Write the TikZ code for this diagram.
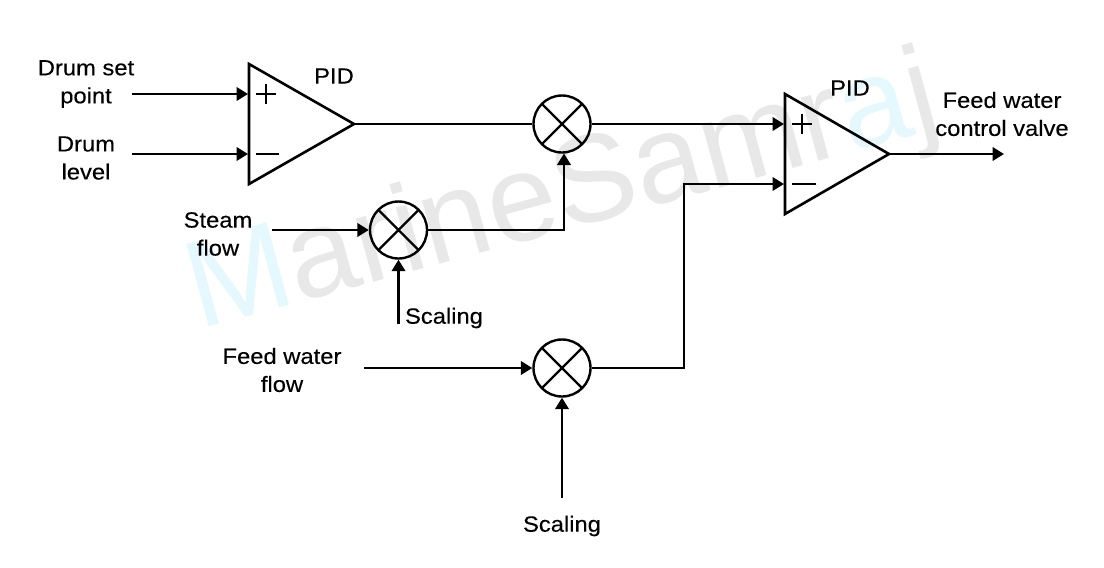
\documentclass[tikz,border=0pt]{standalone}
\usepackage{fontspec}
\setmainfont[FakeBold=0.25,FakeStretch=1.08]{Liberation Sans}
\newfontfamily\wmfont{Liberation Sans}
\usetikzlibrary{arrows.meta}
\definecolor{wmgrey}{HTML}{E8E8E8}
\definecolor{wmcyan}{HTML}{E4F8FD}
\tikzset{
  x=1pt,y=-1pt,
  lbl/.style={font=\fontsize{22}{28}\selectfont,align=center,inner sep=0pt,text=black},
  wire/.style={line width=2.4pt,-{Triangle[length=11.5pt,width=13.5pt]}},
  plain/.style={line width=2.4pt},
  sign/.style={line width=2pt},
  amp/.style={line width=2.6pt,line join=miter},
  mult/.style={draw,line width=2.4pt,circle,minimum size=57pt,inner sep=0pt,
    path picture={\draw[line width=2.4pt]
      (path picture bounding box.north west) -- (path picture bounding box.south east)
      (path picture bounding box.north east) -- (path picture bounding box.south west);}},
  wm/.style={font=\wmfont\fontsize{124}{124}\selectfont,inner sep=0pt,anchor=base west,rotate=15.2}
}
\begin{document}
\begin{tikzpicture}
\useasboundingbox (0,0) rectangle (1104,568);
\fill[white] (0,0) rectangle (1104,568);
% watermark
\node[wm] (wa) at (199,329.5) {\textcolor{wmcyan}{M}\textcolor{wmgrey}{arineSamr}\textcolor{wmcyan}{a}\textcolor{wmgrey}{j}};
% amplifiers
\coordinate (a1t) at (249,64); \coordinate (a1b) at (249,184); \coordinate (a1o) at (354,124);
\coordinate (a2t) at (785,94); \coordinate (a2b) at (785,214); \coordinate (a2o) at (889,154);
\draw[amp] (a1t) -- (a1o) -- (a1b) -- cycle;
\draw[amp] (a2t) -- (a2o) -- (a2b) -- cycle;
\draw[sign] (256,94) -- (276,94) (266,84) -- (266,104);
\draw[sign] (256,154) -- (279,154);
\draw[sign] (792,124) -- (812,124) (802,114) -- (802,134);
\draw[sign] (792,184) -- (816,184);
% multipliers
\node[mult] (m1) at (562,124) {};
\node[mult] (m2) at (398.5,230) {};
\node[mult] (m3) at (562,368) {};
% labels
\node[lbl] (l1) at (86,84) {Drum set\\point};
\node[lbl] (l2) at (86,158) {Drum\\level};
\node[lbl] (l3) at (218,234) {Steam\\flow};
\node[lbl] (l4) at (282,370) {Feed water\\flow};
\node[lbl] (l5) at (444,318) {Scaling};
\node[lbl] (l6) at (562,526) {Scaling};
\node[lbl] (l7) at (1002,114) {Feed water\\control valve};
\node[lbl] (p1) at (334,76) {PID};
\node[lbl] (p2) at (850,88) {PID};
% free ends
\coordinate (s1) at (132,94);
\coordinate (s2) at (132,154);
\coordinate (s3) at (272,230);
\coordinate (s4) at (364,368);
\coordinate (s5) at (398.5,324);
\coordinate (s6) at (562,498);
\coordinate (e1) at (1004,154);
\coordinate (m1in) at (564,153.5);
% connectors
\draw[wire] (s1) -- (248,94);
\draw[wire] (s2) -- (248,154);
\draw[plain] (a1o) -- (m1.west);
\draw[wire] (m1.east) -- (784,124);
\draw[wire] (s3) -- (m2.west);
\draw[wire] (s5) -- (m2.south);
\draw[wire] (m2.east) -| (m1in);
\draw[wire] (s4) -- (m3.west);
\draw[wire] (s6) -- (m3.south);
\draw[wire] (m3.east) -- (684,368) -- (684,184) -- (784,184);
\draw[wire] (a2o) -- (e1);
\end{tikzpicture}
\end{document}
